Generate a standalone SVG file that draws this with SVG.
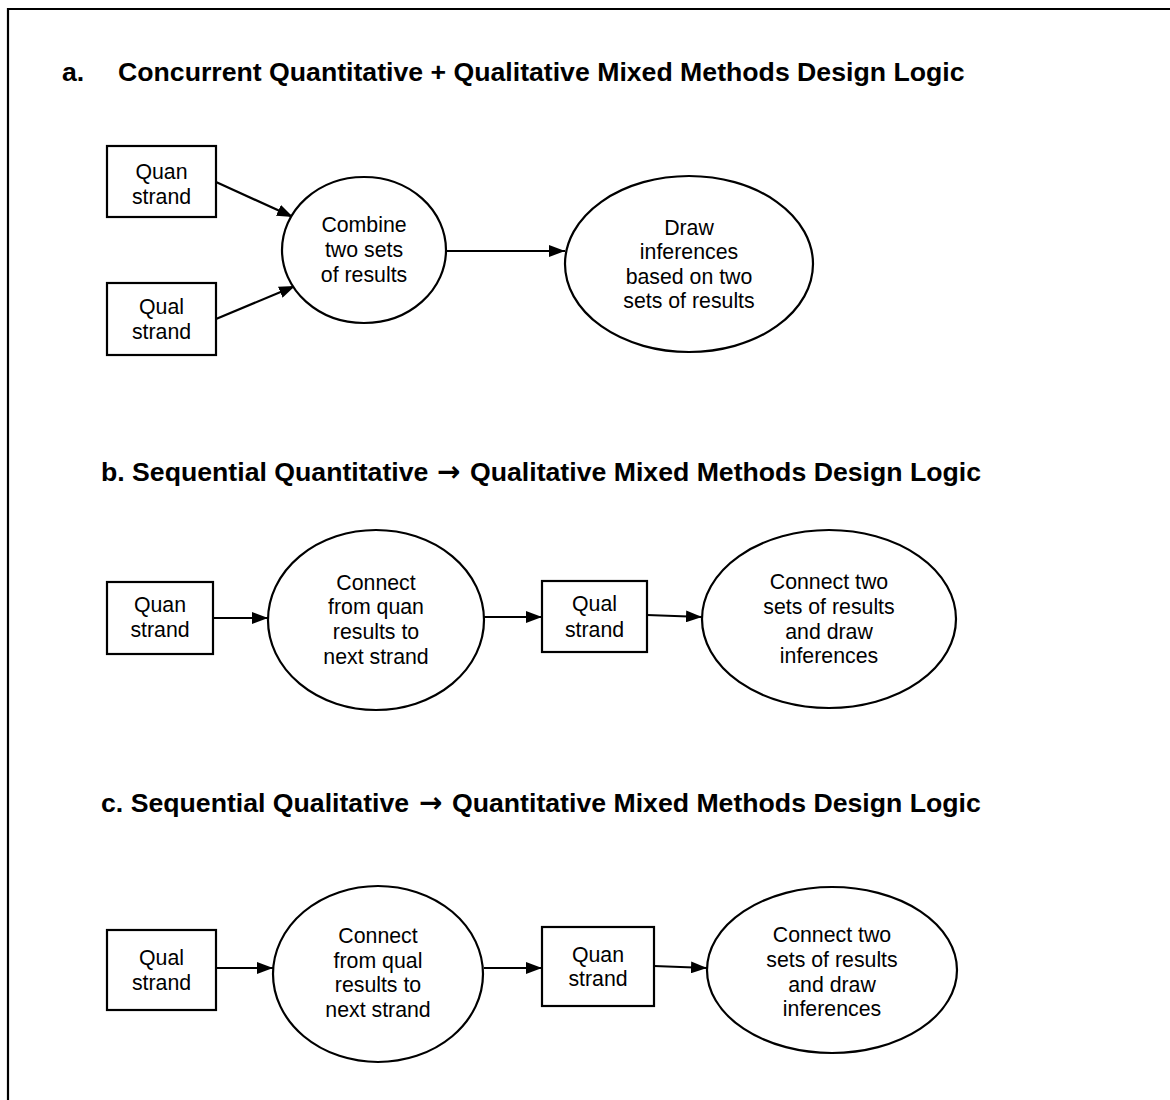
<svg xmlns="http://www.w3.org/2000/svg" width="1170" height="1100" viewBox="0 0 1170 1100">
  <style>
    .title { font-family: "Liberation Sans", Arial, sans-serif; font-weight: bold; font-size: 26.67px; fill: #000; }
    .sym { font-family: "DejaVu Sans", sans-serif; font-weight: bold; font-size: 28px; }
    .lbl { font-family: "Liberation Sans", Arial, sans-serif; font-size: 21.3px; fill: #000; text-anchor: middle; }
    .shape { fill: #fff; stroke: #000; stroke-width: 2.2; }
    .edge { fill: none; stroke: #000; stroke-width: 2.2; marker-end: url(#arrow); }
  </style>
  <defs>
    <marker id="arrow" viewBox="0 0 16 12" refX="16" refY="6" markerWidth="16" markerHeight="12" markerUnits="userSpaceOnUse" orient="auto">
      <path d="M0,0 L16,6 L0,12 Z" fill="#000"/>
    </marker>
  </defs>

  <rect width="1170" height="1100" fill="#fff"/>
  <!-- page frame -->
  <path d="M8,1100 V9 H1170" fill="none" stroke="#000" stroke-width="2.2"/>

  <!-- section titles -->
  <text class="title" x="62" y="81">a.<tspan x="118">Concurrent Quantitative + Qualitative Mixed Methods Design Logic</tspan></text>
  <text class="title" x="101" y="481">b. Sequential Quantitative<tspan class="sym" x="437">→</tspan><tspan x="470">Qualitative Mixed Methods Design Logic</tspan></text>
  <text class="title" x="101" y="812">c. Sequential Qualitative<tspan class="sym" x="419">→</tspan><tspan x="452">Quantitative Mixed Methods Design Logic</tspan></text>

  <!-- connectors -->
  <g id="connectors">
    <line class="edge" x1="216" y1="182" x2="293" y2="217"/>
    <line class="edge" x1="216" y1="319" x2="295" y2="286"/>
    <line class="edge" x1="446" y1="251" x2="565" y2="251"/>

    <line class="edge" x1="213" y1="618" x2="268" y2="618"/>
    <line class="edge" x1="484" y1="617" x2="542" y2="617"/>
    <line class="edge" x1="647" y1="615" x2="702" y2="617"/>

    <line class="edge" x1="216" y1="968" x2="273" y2="968"/>
    <line class="edge" x1="484" y1="968" x2="542" y2="968"/>
    <line class="edge" x1="654" y1="966" x2="707" y2="968"/>
  </g>

  <!-- a. concurrent design -->
  <g id="a-quan">
    <rect class="shape" x="107" y="146" width="109" height="71"/>
    <text class="lbl" x="161.5" y="179">Quan</text>
    <text class="lbl" x="161.5" y="204">strand</text>
  </g>
  <g id="a-qual">
    <rect class="shape" x="107" y="283" width="109" height="72"/>
    <text class="lbl" x="161.5" y="314">Qual</text>
    <text class="lbl" x="161.5" y="339">strand</text>
  </g>
  <g id="a-combine">
    <ellipse class="shape" cx="364" cy="250" rx="82" ry="73"/>
    <text class="lbl" x="364" y="232">Combine</text>
    <text class="lbl" x="364" y="257">two sets</text>
    <text class="lbl" x="364" y="282">of results</text>
  </g>
  <g id="a-infer">
    <ellipse class="shape" cx="689" cy="264" rx="124" ry="88"/>
    <text class="lbl" x="689" y="235">Draw</text>
    <text class="lbl" x="689" y="259">inferences</text>
    <text class="lbl" x="689" y="284">based on two</text>
    <text class="lbl" x="689" y="308">sets of results</text>
  </g>

  <!-- b. sequential quan to qual -->
  <g id="b-quan">
    <rect class="shape" x="107" y="582" width="106" height="72"/>
    <text class="lbl" x="160" y="612">Quan</text>
    <text class="lbl" x="160" y="637">strand</text>
  </g>
  <g id="b-connect">
    <ellipse class="shape" cx="376" cy="620" rx="108" ry="90"/>
    <text class="lbl" x="376" y="590">Connect</text>
    <text class="lbl" x="376" y="614">from quan</text>
    <text class="lbl" x="376" y="639">results to</text>
    <text class="lbl" x="376" y="664">next strand</text>
  </g>
  <g id="b-qual">
    <rect class="shape" x="542" y="581" width="105" height="71"/>
    <text class="lbl" x="594.5" y="611">Qual</text>
    <text class="lbl" x="594.5" y="637">strand</text>
  </g>
  <g id="b-infer">
    <ellipse class="shape" cx="829" cy="619" rx="127" ry="89"/>
    <text class="lbl" x="829" y="589">Connect two</text>
    <text class="lbl" x="829" y="614">sets of results</text>
    <text class="lbl" x="829" y="639">and draw</text>
    <text class="lbl" x="829" y="663">inferences</text>
  </g>

  <!-- c. sequential qual to quan -->
  <g id="c-qual">
    <rect class="shape" x="107" y="930" width="109" height="80"/>
    <text class="lbl" x="161.5" y="965">Qual</text>
    <text class="lbl" x="161.5" y="990">strand</text>
  </g>
  <g id="c-connect">
    <ellipse class="shape" cx="378" cy="974" rx="105" ry="88"/>
    <text class="lbl" x="378" y="943">Connect</text>
    <text class="lbl" x="378" y="968">from qual</text>
    <text class="lbl" x="378" y="992">results to</text>
    <text class="lbl" x="378" y="1017">next strand</text>
  </g>
  <g id="c-quan">
    <rect class="shape" x="542" y="927" width="112" height="79"/>
    <text class="lbl" x="598" y="962">Quan</text>
    <text class="lbl" x="598" y="986">strand</text>
  </g>
  <g id="c-infer">
    <ellipse class="shape" cx="832" cy="970" rx="125" ry="83"/>
    <text class="lbl" x="832" y="942">Connect two</text>
    <text class="lbl" x="832" y="967">sets of results</text>
    <text class="lbl" x="832" y="992">and draw</text>
    <text class="lbl" x="832" y="1016">inferences</text>
  </g>
</svg>
